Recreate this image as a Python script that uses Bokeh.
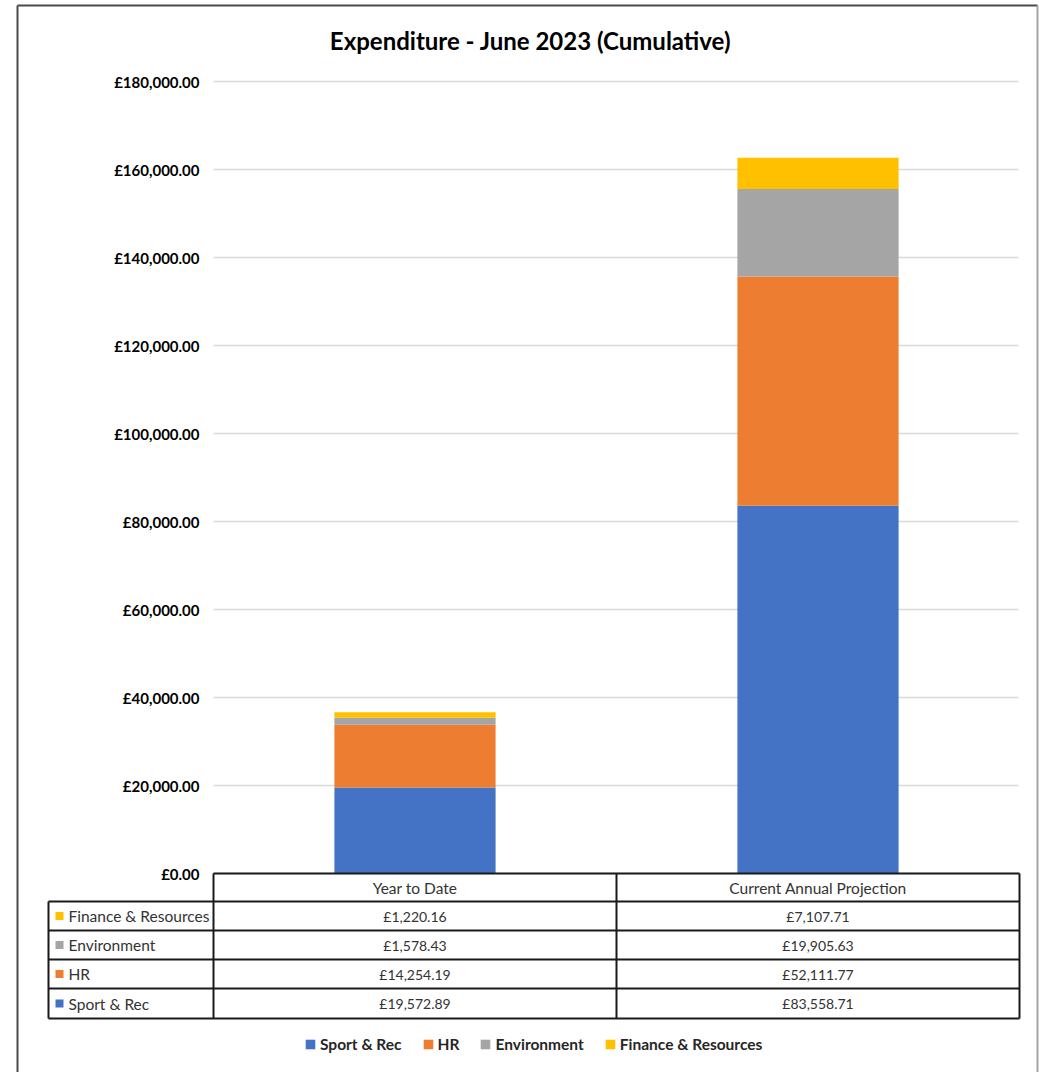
from bokeh.plotting import figure
from bokeh.models import (Range1d, FixedTicker, LinearAxis, Legend, LegendItem,
                          ColumnDataSource)
from bokeh.embed import file_html
from bokeh.resources import INLINE
from bokeh.core.properties import value

# ---------------- data ----------------
categories = ["Year to Date", "Current Annual Projection"]
series = ["Sport & Rec", "HR", "Environment", "Finance & Resources"]
sport_rec = [19572.89, 83558.71]
hr = [14254.19, 52111.77]
environment = [1578.43, 19905.63]
finance_resources = [1220.16, 7107.71]
colors = ["#4472C4", "#ED7D31", "#A5A5A5", "#FFC000"]
y_ticks = [0, 20000, 40000, 60000, 80000, 100000, 120000, 140000, 160000, 180000]
title_text = "Expenditure - June 2023 (Cumulative)"

series_values = [sport_rec, hr, environment, finance_resources]
keys = ["s0", "s1", "s2", "s3"]

# ---------------- layout constants (pixels) ----------------
FONT = "Lato"
W, H = 1039, 1072
X_L, X_R = 213, 1019          # chart plot area / table value columns
Y0, Y_TOP = 873, 81           # value 0 and value Y_MAX
Y_MAX = 180000
CAT_PX = (X_R - X_L) / len(categories)
PPV = (Y0 - Y_TOP) / Y_MAX
HEAD_TOP = Y0
ROW_Y = [901, 930, 959, 988, 1018]
TBL_LEFT = 48
TBL_TXT = "#333333"
LINE = "#1a1a1a"


def fmt(v):
    return "£{:,.2f}".format(v)


p = figure(width=W, height=H, x_range=Range1d(0, W), y_range=Range1d(H, 0),
           output_backend="svg", toolbar_location=None,
           x_axis_location=None, y_axis_location=None, min_border=0)
p.outline_line_color = None
p.grid.visible = False
p.background_fill_color = "white"
p.border_fill_color = "white"

p.extra_x_ranges = {"cat": Range1d(-X_L / CAT_PX, (W - X_L) / CAT_PX)}
p.extra_y_ranges = {"val": Range1d(-(H - Y0) / PPV, Y_MAX + Y_TOP / PPV)}

cat_x = [i + 0.5 for i in range(len(categories))]
cat_bounds = list(range(len(categories) + 1))

# title
p.text(x=[(17 + 1037) / 2 + 3], y=[40], text=[title_text], text_align="center",
       text_baseline="middle", text_font=value(FONT), text_font_size="24px",
       text_font_style="bold", text_color="#000000")

# gridlines
p.segment(x0=X_L, x1=X_R - 1, y0=y_ticks, y1=y_ticks, y_range_name="val",
          line_color="#D9D9D9", line_width=1.5)

# y axis inside the full-canvas frame
yax = LinearAxis(y_range_name="val", fixed_location=X_L,
                 ticker=FixedTicker(ticks=y_ticks),
                 major_label_overrides={t: fmt(t) for t in y_ticks})
yax.axis_line_color = None
yax.major_tick_line_color = None
yax.minor_tick_line_color = None
yax.major_label_standoff = 8
yax.major_label_text_font = FONT
yax.major_label_text_font_size = "15px"
yax.major_label_text_font_style = "bold"
yax.major_label_text_color = "#000000"
p.add_layout(yax, "left")

# stacked bars
src = ColumnDataSource(dict(x=cat_x, **{k: v for k, v in zip(keys, series_values)}))
p.vbar_stack(keys, x="x", width=0.4, color=colors, line_color=None, source=src,
             x_range_name="cat", y_range_name="val")

# ---------------- data table ----------------
p.segment(x0=[cat_bounds[0]], x1=[cat_bounds[-1]], y0=[HEAD_TOP], y1=[HEAD_TOP],
          x_range_name="cat", line_color=LINE, line_width=2)
p.segment(x0=[TBL_LEFT] * len(ROW_Y), x1=[X_R] * len(ROW_Y), y0=ROW_Y, y1=ROW_Y,
          line_color=LINE, line_width=2)
p.segment(x0=cat_bounds, x1=cat_bounds, y0=[HEAD_TOP] * len(cat_bounds),
          y1=[ROW_Y[-1]] * len(cat_bounds), x_range_name="cat",
          line_color=LINE, line_width=2)
p.segment(x0=[TBL_LEFT], x1=[TBL_LEFT], y0=[ROW_Y[0]], y1=[ROW_Y[-1]],
          line_color=LINE, line_width=2)

p.text(x=cat_x, y=[(HEAD_TOP + ROW_Y[0]) / 2] * len(categories), text=categories,
       x_range_name="cat", text_align="center", text_baseline="middle",
       text_font=value(FONT), text_font_size="15.5px", text_color=TBL_TXT)

order = list(range(len(series)))[::-1]
marker_r = {}
for r, si in enumerate(order):
    mid = (ROW_Y[r] + ROW_Y[r + 1]) / 2
    marker_r[si] = p.quad(left=[55], right=[63], top=[mid - 4], bottom=[mid + 4],
                          fill_color=colors[si], line_color=None)
    p.text(x=[68], y=[mid], text=[series[si]], text_align="left", text_baseline="middle",
           text_font=value(FONT), text_font_size="15.5px", text_color=TBL_TXT)
    p.text(x=cat_x, y=[mid] * len(categories), text=[fmt(v) for v in series_values[si]],
           x_range_name="cat", text_align="center", text_baseline="middle",
           text_font=value(FONT), text_font_size="14px", text_color=TBL_TXT)

# outer chart-area border
p.segment(x0=[17, 17], y0=[5, 5], x1=[1037, 17], y1=[5, H],
          line_color="#4a4a4a", line_width=2)
p.segment(x0=[1037], y0=[5], x1=[1037], y1=[H], line_color="#A6A6A6", line_width=2)

# legend
legend = Legend(items=[LegendItem(label=series[si], renderers=[marker_r[si]])
                       for si in range(len(series))],
                orientation="horizontal", location=(304, 19),
                glyph_width=12, glyph_height=12, label_height=16,
                label_standoff=4, spacing=20, padding=0, margin=0,
                border_line_color=None, background_fill_alpha=0,
                label_text_font=FONT, label_text_font_size="15.5px",
                label_text_font_style="bold", label_text_color="#262626")
p.add_layout(legend)

open("out.html", "w").write(file_html(p, INLINE))
